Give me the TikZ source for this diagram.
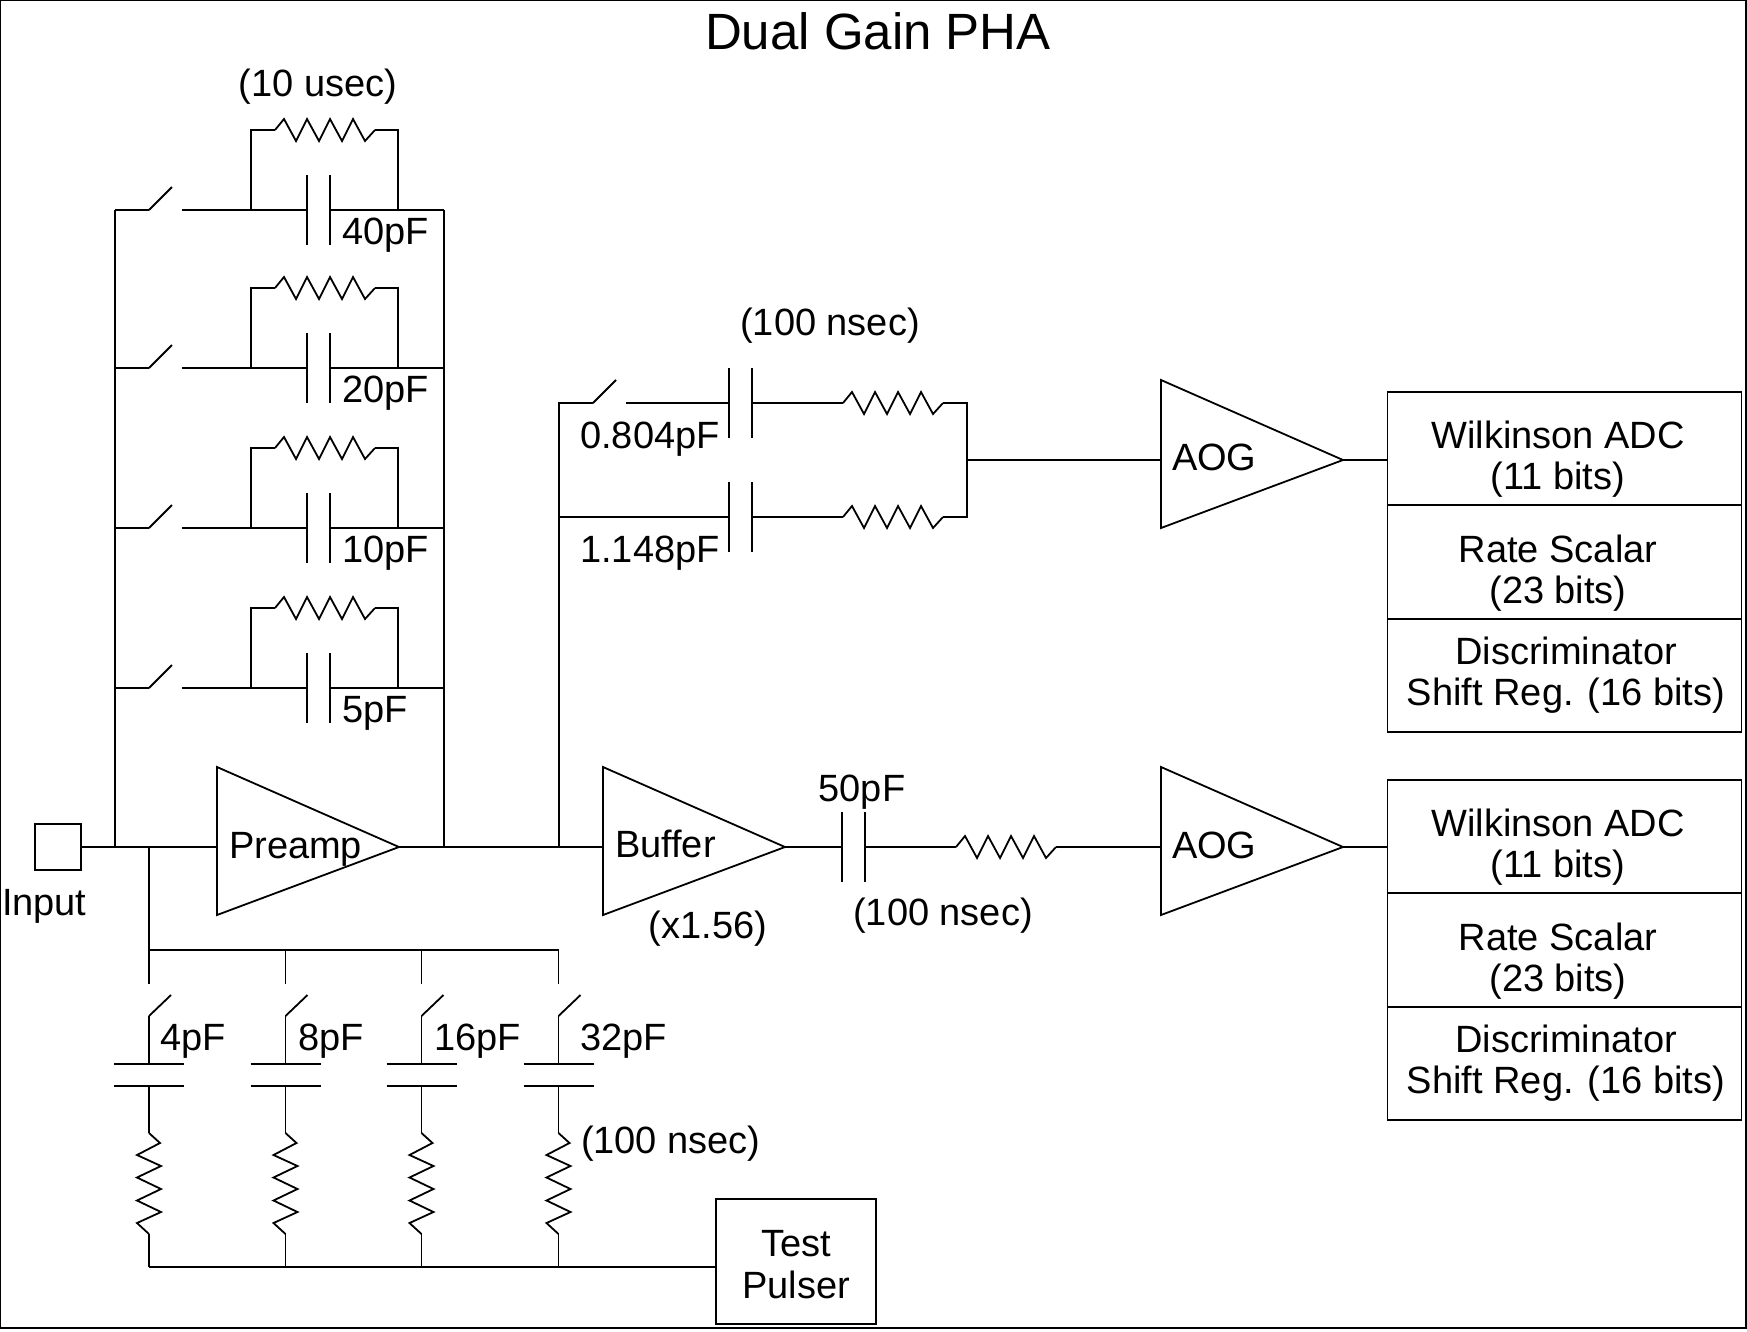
\documentclass[tikz,border=0pt]{standalone}
\usepackage{fontspec}
\setmainfont{Liberation Sans}
\usetikzlibrary{calc}

\tikzset{
    lbl/.style={font=\fontsize{38}{41}\selectfont, inner sep=0pt, outer sep=0pt},
    regbox/.style={draw, rectangle, minimum width=354pt, inner sep=0pt, outer sep=0pt},
    amp/.pic={
        \draw (0,-80) -- (182,0) -- (0,68) -- cycle;
        \coordinate (-in) at (0,0);
        \coordinate (-out) at (182,0);
    },
    hres/.pic={
        \draw (0,0) -- (9,-11) -- (21,11) -- (32,-11) -- (44,11) -- (55,-11) -- (67,11) -- (78,-11) -- (90,11) -- (100,0);
        \coordinate (-in) at (0,0);
        \coordinate (-out) at (100,0);
    },
    vres/.pic={
        \draw (0,0) -- (11,10) -- (-12,22) -- (12,33) -- (-12,44.5) -- (12,56) -- (-12,67.5) -- (12,79) -- (-12,90) -- (0,101);
        \coordinate (-in) at (0,0);
        \coordinate (-out) at (0,101);
    },
    hcap/.pic={
        \draw (0,-35) -- (0,35);
        \draw (23,-35) -- (23,35);
        \coordinate (-in) at (0,0);
        \coordinate (-out) at (23,0);
    },
    vcap/.pic={
        \draw (-35,0) -- (35,0);
        \draw (-35,22) -- (35,22);
        \coordinate (-in) at (0,0);
        \coordinate (-out) at (0,22);
    },
    hsw/.pic={
        \draw (0,0) -- (23,-23);
        \coordinate (-in) at (0,0);
        \coordinate (-out) at (33,0);
    },
    vsw/.pic={
        \draw (22,11) -- (0,32);
        \coordinate (-in) at (0,0);
        \coordinate (-out) at (0,32);
    }
}

\begin{document}
\begin{tikzpicture}[x=1pt, y=-1pt, line width=1.8pt]
    \useasboundingbox (0,0) rectangle (1747,1331);
    \draw[line width=1.3pt] (0.7,0.7) rectangle (1746,1328);

    \node[lbl, font=\fontsize{51}{56}\selectfont, anchor=base] (title) at (878,49) {Dual Gain PHA};

    % Input and amplifiers
    \node[draw, rectangle, minimum size=46pt, inner sep=0pt, outer sep=0pt] (input) at (57.7,847) {};
    \node[lbl, anchor=base west] (inputlbl) at (2,915) {Input};
    \pic (preamp) at (217,847) {amp};
    \node[lbl, anchor=base west] (preamplbl) at (229,858) {Preamp};
    \pic (buffer) at (603,847) {amp};
    \node[lbl, anchor=base west] (bufferlbl) at (615,857) {Buffer};
    \node[lbl, anchor=base] (gainlbl) at (708,938) {(x1.56)};
    \pic (aogU) at (1161,460) {amp};
    \node[lbl, anchor=base west] (aogUlbl) at (1172,470) {AOG};
    \pic (aogL) at (1161,847) {amp};
    \node[lbl, anchor=base west] (aogLlbl) at (1172,858) {AOG};
    \draw (input.east) -- (preamp-in);
    \draw (preamp-out) -- (buffer-in);

    % Feedback branches
    \coordinate (railL) at (115,847);
    \coordinate (railR) at (444,847);
    \draw (railL) -- (115,210);
    \draw (railR) -- (444,210);
    \foreach \n/\y/\w/\val in {1/210/2.4/40pF, 2/368/1.2/20pF, 3/528/1.6/10pF, 4/688/2.4/5pF} {
        \pic (sw\n) at (149,\y) {hsw};
        \pic (cf\n) at (307,\y) {hcap};
        \pic (rf\n) at (275,\y-80) {hres};
        \coordinate (fbL\n) at (115,\y);
        \coordinate (fbR\n) at (444,\y);
        \coordinate (fbA\n) at (251,\y);
        \coordinate (fbB\n) at (398,\y);
        \draw[line width=\w pt] (fbL\n) -- (sw\n-in);
        \draw[line width=\w pt] (sw\n-out) -- (cf\n-in);
        \draw[line width=\w pt] (cf\n-out) -- (fbR\n);
        \draw (fbA\n) |- (rf\n-in);
        \draw (rf\n-out) -| (fbB\n);
        \node[lbl, anchor=base west] (cflbl\n) at (342,\y+34) {\val};
    }
    \node[lbl, anchor=base] (fbtime) at (318,96) {(10 usec)};

    % High gain path
    \coordinate (railM) at (559,847);
    \coordinate (mixU) at (967,403);
    \coordinate (mixL) at (967,517);
    \coordinate (mixO) at (967,460);
    \pic (swH) at (593,403) {hsw};
    \pic (cH) at (729,403) {hcap};
    \pic (rH) at (843,403) {hres};
    \pic (cK) at (729,517) {hcap};
    \pic (rK) at (843,517) {hres};
    \draw (railM) -- (559,403) -- (swH-in);
    \draw (swH-out) -- (cH-in);
    \draw (cH-out) -- (rH-in);
    \draw (rH-out) -- (mixU) -- (mixL) -- (rK-out);
    \draw (559,517) -- (cK-in);
    \draw (cK-out) -- (rK-in);
    \draw (mixO) -- (aogU-in);
    \node[lbl, anchor=base] (timeH) at (830,335) {(100 nsec)};
    \node[lbl, anchor=base] (cHlbl) at (650,448) {0.804pF};
    \node[lbl, anchor=base] (cKlbl) at (650,562) {1.148pF};

    % Low gain path
    \pic (cB) at (842,847) {hcap};
    \pic (rB) at (956,847) {hres};
    \draw (buffer-out) -- (cB-in);
    \draw (cB-out) -- (rB-in);
    \draw (rB-out) -- (aogL-in);
    \node[lbl, anchor=base] (cBlbl) at (862,801) {50pF};
    \node[lbl, anchor=base] (timeB) at (943,925) {(100 nsec)};

    % Output registers
    \foreach \g/\d in {U/0, L/388} {
        \node[regbox, minimum height=113pt] (adc\g) at (1564.5,448.5+\d) {};
        \node[regbox, minimum height=114pt] (rate\g) at (1564.5,562+\d) {};
        \node[regbox, minimum height=113pt] (disc\g) at (1564.5,675.5+\d) {};
        \node[lbl, align=center] (adclbl\g) at (1558,459.5+\d) {Wilkinson ADC\\(11 bits)};
        \node[lbl, align=center] (ratelbl\g) at (1558,573+\d) {Rate Scalar\\(23 bits)};
        \node[lbl, align=center] (disclbl\g) at (1566,675.5+\d) {Discriminator\\Shift Reg. (16 bits)};
        \draw (aog\g-out) -- (aog\g-out -| adc\g.west);
    }

    % Test pulser branches
    \node[draw, rectangle, minimum width=160pt, minimum height=125pt, inner sep=0pt, outer sep=0pt] (test) at (796,1261.5) {};
    \node[lbl, font=\fontsize{38}{42}\selectfont, align=center] (testlbl) at (796,1265) {Test\\Pulser};
    \coordinate (tap) at (149,847);
    \coordinate (busA) at (149,950);
    \coordinate (busD) at (558.5,950);
    \coordinate (botA) at (149,1267);
    \coordinate (botD) at (558.5,1267);
    \draw (tap) -- (busA);
    \draw[line width=2.6pt] (busA) -- (busD);
    \foreach \n/\x/\val/\lx in {1/149/4pF/160, 2/285.5/8pF/298, 3/421.5/16pF/434, 4/558.5/32pF/580} {
        \pic (sp\n) at (\x,984) {vsw};
        \pic (cp\n) at (\x,1064) {vcap};
        \pic (rp\n) at (\x,1133) {vres};
        \draw (\x,950) -- (sp\n-in);
        \draw (sp\n-out) -- (cp\n-in);
        \draw (cp\n-out) -- (rp\n-in);
        \draw (rp\n-out) -- (\x,1267);
        \node[lbl, anchor=base west] (cplbl\n) at (\lx,1050) {\val};
    }
    \draw (botA) -- (botD) -- (botD -| test.west);
    \node[lbl, anchor=base west] (timeP) at (581,1153) {(100 nsec)};
\end{tikzpicture}
\end{document}
